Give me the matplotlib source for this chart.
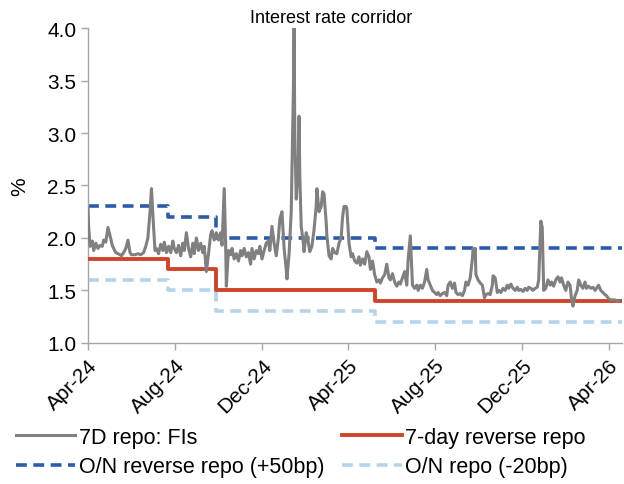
import pandas as pd
import matplotlib.pyplot as plt
import matplotlib.dates as mdates

plt.rcParams['font.family'] = ['Liberation Sans', 'DejaVu Sans']

# 7D repo rate for financial institutions: days after 2024-04-01 and rate (%)
fi_days = [0, 1, 3, 6, 8, 11, 14, 17, 20, 22, 25, 28, 31, 34, 36, 39, 42, 45, 47, 50,
           53, 56, 59, 61, 66, 70, 74, 78, 81, 84, 87, 89, 92, 94, 96, 99, 102, 105, 107, 110,
           113, 116, 119, 121, 124, 127, 130, 133, 135, 138, 141, 144, 147, 149, 152, 155, 158, 161, 163, 166,
           169, 172, 174, 177, 180, 183, 186, 188, 191, 193, 194, 197, 200, 202, 205, 208, 211, 214, 216, 219,
           222, 225, 228, 230, 233, 236, 239, 241, 244, 247, 250, 253, 255, 258, 261, 264, 267, 269, 272, 275,
           278, 279, 282, 285, 288, 289, 290, 292, 295, 296, 297, 299, 302, 303, 306, 308, 311, 314, 317, 320,
           321, 324, 327, 329, 331, 334, 335, 338, 341, 343, 346, 349, 352, 355, 357, 359, 362, 363, 366, 369,
           371, 374, 377, 380, 382, 385, 388, 391, 394, 396, 399, 402, 405, 408, 410, 413, 416, 419, 422, 424,
           427, 430, 433, 436, 438, 441, 444, 447, 449, 452, 455, 458, 461, 463, 466, 469, 472, 475, 477, 480,
           483, 486, 489, 491, 494, 497, 500, 503, 505, 508, 511, 514, 516, 519, 522, 525, 528, 530, 533, 536,
           539, 540, 542, 543, 544, 547, 550, 553, 556, 558, 561, 564, 567, 568, 571, 574, 576, 579, 582, 585,
           588, 590, 593, 596, 599, 602, 604, 607, 610, 613, 616, 618, 621, 624, 627, 630, 632, 635, 637, 639,
           642, 645, 648, 650, 653, 656, 659, 662, 664, 667, 670, 673, 676, 678, 680, 683, 686, 688, 691, 694,
           697, 699, 702, 705, 708, 711, 713, 716, 719, 722, 725, 727, 730, 733, 736, 739, 741, 744]
fi_rate = [2.28, 2.10, 1.92, 1.97, 1.88, 1.95, 1.90, 1.93, 1.92, 1.98, 1.96, 2.10, 2.02, 1.93, 1.90, 1.86, 1.85, 1.84, 1.83, 1.86,
           1.90, 1.98, 1.86, 1.84, 1.84, 1.85, 1.84, 1.86, 1.92, 2.00, 2.25, 2.47, 2.10, 1.88, 1.90, 1.85, 1.94, 1.88, 1.96, 1.86,
           1.92, 1.86, 1.97, 1.90, 1.86, 1.93, 1.83, 1.95, 1.88, 2.05, 1.90, 1.82, 1.95, 1.85, 2.00, 1.88, 1.95, 1.86, 1.92, 1.68,
           1.85, 2.03, 2.07, 1.98, 2.05, 1.98, 2.05, 1.93, 2.47, 1.95, 1.54, 1.88, 1.84, 1.90, 1.80, 1.85, 1.78, 1.88, 1.83, 1.90,
           1.82, 1.86, 1.75, 1.90, 1.80, 1.88, 1.85, 1.92, 1.80, 1.88, 1.95, 1.97, 1.88, 2.11, 1.95, 1.83, 2.00, 2.18, 2.25, 1.90,
           1.70, 1.61, 1.85, 2.25, 3.40, 4.00, 3.00, 2.37, 2.70, 3.16, 2.60, 2.11, 1.95, 1.87, 2.05, 2.00, 1.87, 1.92, 2.08, 2.30,
           2.47, 2.25, 2.30, 2.44, 2.42, 2.15, 2.02, 1.83, 1.80, 1.90, 1.86, 1.85, 1.95, 2.00, 2.20, 2.30, 2.30, 2.28, 1.95, 1.82,
           1.85, 1.78, 1.76, 1.82, 1.74, 1.80, 1.75, 1.87, 1.82, 1.70, 1.78, 1.65, 1.58, 1.60, 1.57, 1.62, 1.65, 1.75, 1.62, 1.60,
           1.66, 1.58, 1.54, 1.58, 1.56, 1.62, 1.68, 1.55, 1.80, 2.02, 1.55, 1.52, 1.55, 1.50, 1.55, 1.52, 1.58, 1.70, 1.60, 1.55,
           1.50, 1.48, 1.46, 1.48, 1.45, 1.47, 1.48, 1.45, 1.55, 1.58, 1.52, 1.57, 1.48, 1.46, 1.47, 1.45, 1.50, 1.58, 1.55, 1.62,
           1.80, 1.90, 1.85, 1.90, 1.65, 1.60, 1.57, 1.55, 1.43, 1.46, 1.47, 1.46, 1.55, 1.64, 1.62, 1.48, 1.50, 1.48, 1.52, 1.50,
           1.55, 1.52, 1.56, 1.52, 1.50, 1.53, 1.50, 1.51, 1.49, 1.52, 1.50, 1.53, 1.52, 1.50, 1.52, 1.53, 1.60, 2.16, 2.10, 1.50,
           1.52, 1.60, 1.55, 1.58, 1.54, 1.60, 1.63, 1.58, 1.62, 1.55, 1.50, 1.58, 1.55, 1.42, 1.35, 1.45, 1.50, 1.60, 1.55, 1.52,
           1.58, 1.52, 1.54, 1.52, 1.53, 1.50, 1.52, 1.55, 1.50, 1.48, 1.46, 1.45, 1.42, 1.41, 1.41, 1.41, 1.40, 1.40]

# policy rate changes (step dates) and levels
policy_dates = ['2024-04-01', '2024-07-22', '2024-09-27', '2025-05-08', '2026-04-20']
reverse_repo_7d = [1.8, 1.7, 1.5, 1.4, 1.4]
on_reverse_repo = [2.3, 2.2, 2.0, 1.9, 1.9]
on_repo = [1.6, 1.5, 1.3, 1.2, 1.2]

start = pd.Timestamp('2024-04-01')
fi_dates = start + pd.to_timedelta(fi_days, unit='D')
pdates = pd.to_datetime(policy_dates)

fig = plt.figure(figsize=(6.24, 4.85), dpi=100)
ax = fig.add_axes([0.141, 0.291, 0.856, 0.649])

l_fi, = ax.plot(fi_dates, fi_rate, color='#808080', lw=2.2, label='7D repo: FIs', zorder=4)
l_rr, = ax.plot(pdates, reverse_repo_7d, drawstyle='steps-post', color='#d0442a', lw=2.8,
                label='7-day reverse repo', zorder=3)
l_onr, = ax.plot(pdates, on_reverse_repo, drawstyle='steps-post', color='#2b5bab', lw=2.6,
                 dashes=(3, 1.8), label='O/N reverse repo (+50bp)', zorder=2)
l_on, = ax.plot(pdates, on_repo, drawstyle='steps-post', color='#b3d4ec', lw=2.6,
                dashes=(3, 1.8), label='O/N repo (-20bp)', zorder=2)

ax.set_ylim(1.0, 4.0)
ax.set_yticks([1.0, 1.5, 2.0, 2.5, 3.0, 3.5, 4.0])
ax.yaxis.set_major_formatter(plt.FormatStrFormatter('%.1f'))
ax.set_xlim(start, pd.Timestamp('2026-04-20'))
ax.set_xticks(pd.to_datetime(['2024-04-01', '2024-08-01', '2024-12-01', '2025-04-01',
                              '2025-08-01', '2025-12-01', '2026-04-01']))
ax.xaxis.set_major_formatter(mdates.DateFormatter('%b-%y'))
plt.setp(ax.get_xticklabels(), rotation=45, ha='right', rotation_mode='anchor')

for s in ['top', 'right']:
    ax.spines[s].set_visible(False)
for s in ['left', 'bottom']:
    ax.spines[s].set_color('#a6a6a6')
    ax.spines[s].set_linewidth(1.0)
ax.tick_params(axis='both', colors='#a6a6a6', labelcolor='black', labelsize=15,
               length=5, width=1.0, direction='out')
ax.tick_params(axis='x', pad=4)

ax.set_ylabel('%', fontsize=15, labelpad=13)
fig.text(0.53, 0.962, 'Interest rate corridor', ha='center', va='center', fontsize=13)

# column-wise fill: gray/blue in column 1, red/light blue in column 2
fig.legend([l_fi, l_onr, l_rr, l_on],
           [l_fi.get_label(), l_onr.get_label(), l_rr.get_label(), l_on.get_label()],
           loc='lower left', bbox_to_anchor=(0.012, -0.004), ncol=2, frameon=False,
           fontsize=15.5, handlelength=2.75, columnspacing=0.85, labelspacing=0.4,
           handletextpad=0.15, borderaxespad=0.0)

plt.savefig('out.png', dpi=100)
